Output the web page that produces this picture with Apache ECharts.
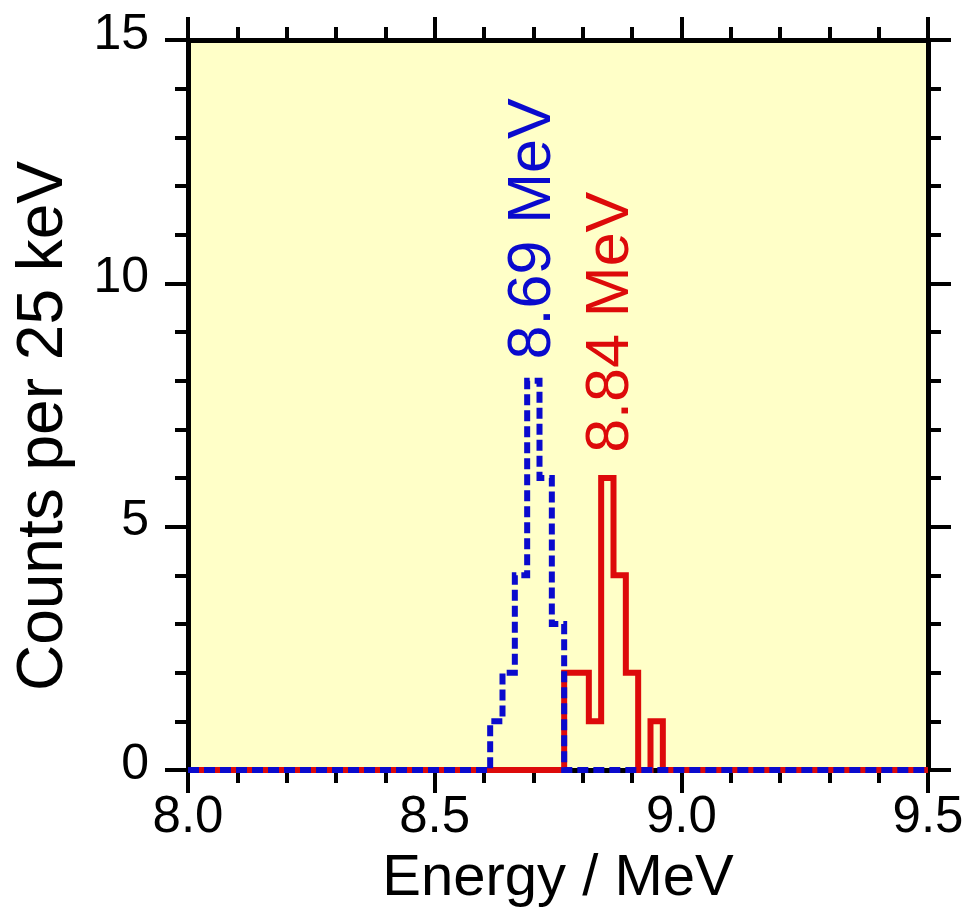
<!DOCTYPE html>
<html>
<head>
<meta charset="utf-8">
<script src="https://cdn.jsdelivr.net/npm/echarts@6/dist/echarts.min.js"></script>
<style>
html,body{margin:0;padding:0;background:#fff;}
#c{width:967px;height:913px;}
</style>
</head>
<body>
<div id="c"></div>
<script>
// ---- data ----
var binWidth = 0.025; // MeV (25 keV)
var blueCenters = [8.625, 8.650, 8.675, 8.700, 8.725, 8.750];
var blueCounts  = [1, 2, 4, 8, 6, 3];
var redCenters  = [8.775, 8.800, 8.825, 8.850, 8.875, 8.900, 8.925, 8.950];
var redCounts   = [2, 2, 1, 6, 4, 2, 0, 1];
var peakLabels  = ['8.69 MeV', '8.84 MeV'];
var peakEnergies = [8.69, 8.84];
var xTicks = [8.0, 8.5, 9.0, 9.5];
var yTicks = [0, 5, 10, 15];
var xRange = [8.0, 9.5];
var yRange = [0, 15];

function stepData(centers, counts) {
  var pts = [[xRange[0], 0]];
  for (var i = 0; i < centers.length; i++) {
    var lo = centers[i] - binWidth / 2, hi = centers[i] + binWidth / 2;
    if (i === 0) pts.push([lo, 0]);
    pts.push([lo, counts[i]]);
    pts.push([hi, counts[i]]);
  }
  var last = centers[centers.length - 1] + binWidth / 2;
  pts.push([last, 0]);
  pts.push([xRange[1], 0]);
  return pts;
}

var FONT = '"Liberation Sans", Arial, Helvetica, sans-serif';
var chart = echarts.init(document.getElementById('c'), null, {renderer: 'canvas'});

function xAxisBase(pos, showLabel) {
  return {
    type: 'value', position: pos, min: xRange[0], max: xRange[1], interval: 0.5,
    axisLine: {show: true, onZero: false, lineStyle: {color: '#000', width: 5}},
    axisTick: {show: true, inside: false, length: 23, lineStyle: {color: '#000', width: 4}},
    minorTick: {show: true, splitNumber: 5, length: 13, lineStyle: {color: '#000', width: 4}},
    splitLine: {show: false},
    axisLabel: {show: showLabel, margin: 22, fontSize: 51, color: '#000', fontFamily: FONT,
      formatter: function (v) { return v.toFixed(1); }}
  };
}
function yAxisBase(pos, showLabel) {
  return {
    type: 'value', position: pos, min: yRange[0], max: yRange[1], interval: 5,
    axisLine: {show: true, onZero: false, lineStyle: {color: '#000', width: 5}},
    axisTick: {show: true, inside: false, length: 23, lineStyle: {color: '#000', width: 4}},
    minorTick: {show: true, splitNumber: 5, length: 13, lineStyle: {color: '#000', width: 4}},
    splitLine: {show: false},
    axisLabel: {show: showLabel, margin: 39, fontSize: 50, color: '#000', fontFamily: FONT,
                verticalAlign: 'bottom', lineHeight: 10}
  };
}

var xBottom = xAxisBase('bottom', true);
xBottom.name = 'Energy / MeV';
xBottom.nameLocation = 'middle';
xBottom.nameGap = 80;
xBottom.nameTextStyle = {fontSize: 58, color: '#000', fontFamily: FONT};

var option = {
  animation: false,
  backgroundColor: '#fff',
  grid: {left: 188, right: 39, top: 40, bottom: 140, show: true,
         backgroundColor: '#FFFFC8', borderWidth: 0},
  xAxis: [xBottom, xAxisBase('top', false)],
  yAxis: [yAxisBase('left', true), yAxisBase('right', false)],
  graphic: [{
    type: 'text', x: 44, y: 426, rotation: Math.PI / 2,
    style: {text: 'Counts per 25 keV', fontSize: 64, fill: '#000', fontFamily: FONT,
            align: 'center', verticalAlign: 'middle'}
  }],
  series: [
    {
      type: 'line', data: stepData(redCenters, redCounts), xAxisIndex: 0, yAxisIndex: 0,
      showSymbol: false, symbol: 'none', z: 3,
      lineStyle: {color: '#DD0A0A', width: 6, join: 'miter', cap: 'butt'},
      markPoint: {
        symbol: 'circle', symbolSize: 0,
        label: {show: true, position: 'inside', rotate: 90, fontSize: 61, color: '#DD0A0A',
                fontFamily: FONT, formatter: peakLabels[1]},
        data: [{coord: [peakEnergies[1] + 0.018, Math.max.apply(null, redCounts) + 3.2]}]
      }
    },
    {
      type: 'line', data: stepData(blueCenters, blueCounts), xAxisIndex: 0, yAxisIndex: 0,
      showSymbol: false, symbol: 'none', z: 4,
      lineStyle: {color: '#0A0ACD', width: 6, type: [11, 5], join: 'miter', cap: 'butt'},
      markPoint: {
        symbol: 'circle', symbolSize: 0,
        label: {show: true, position: 'inside', rotate: 90, fontSize: 61, color: '#0A0ACD',
                fontFamily: FONT, formatter: peakLabels[0]},
        data: [{coord: [peakEnergies[0] + 0.01, Math.max.apply(null, blueCounts) + 3.12]}]
      }
    }
  ]
};
chart.setOption(option);
</script>
</body>
</html>
